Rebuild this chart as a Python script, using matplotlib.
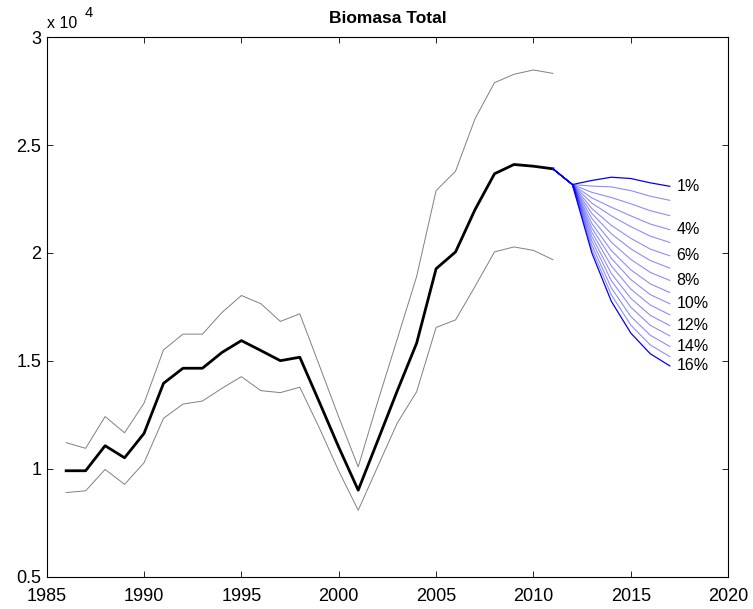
import numpy as np
import matplotlib
matplotlib.use('Agg')
import matplotlib.pyplot as plt

plt.rcParams['font.family'] = ['Liberation Sans', 'DejaVu Sans']

# historical series (units of 1e4)
years = np.arange(1986, 2012)
biomass = [0.991, 0.991, 1.107, 1.051, 1.164, 1.396, 1.466, 1.466, 1.539, 1.594,
           1.548, 1.501, 1.517, 1.31, 1.10, 0.901, 1.13, 1.36, 1.582, 1.927,
           2.005, 2.201, 2.367, 2.410, 2.402, 2.390]
upper = [1.121, 1.095, 1.242, 1.167, 1.304, 1.551, 1.624, 1.624, 1.724, 1.803,
         1.765, 1.683, 1.718, 1.48, 1.24, 1.009, 1.31, 1.60, 1.891, 2.289,
         2.379, 2.622, 2.789, 2.828, 2.848, 2.832]
lower = [0.890, 0.898, 0.997, 0.928, 1.028, 1.234, 1.300, 1.314, 1.373, 1.427,
         1.362, 1.353, 1.378, 1.19, 0.99, 0.808, 1.01, 1.211, 1.357, 1.655,
         1.690, 1.845, 2.005, 2.028, 2.012, 1.969]

# projections 2011-2017, one per harvest rate
proj_years = np.arange(2011, 2018)
rates = ['1%', '2%', '3%', '4%', '5%', '6%', '7%', '8%',
         '9%', '10%', '11%', '12%', '13%', '14%', '15%', '16%']
proj = [
    [2.390, 2.317, 2.336, 2.351, 2.345, 2.325, 2.309],
    [2.390, 2.317, 2.310, 2.306, 2.289, 2.263, 2.244],
    [2.390, 2.317, 2.281, 2.257, 2.228, 2.196, 2.173],
    [2.390, 2.317, 2.255, 2.212, 2.172, 2.134, 2.108],
    [2.390, 2.317, 2.231, 2.172, 2.122, 2.078, 2.049],
    [2.390, 2.317, 2.206, 2.128, 2.068, 2.018, 1.987],
    [2.390, 2.317, 2.183, 2.089, 2.019, 1.965, 1.930],
    [2.390, 2.317, 2.160, 2.050, 1.970, 1.910, 1.873],
    [2.390, 2.317, 2.137, 2.011, 1.922, 1.857, 1.817],
    [2.390, 2.317, 2.116, 1.975, 1.877, 1.807, 1.765],
    [2.390, 2.317, 2.096, 1.940, 1.833, 1.759, 1.714],
    [2.390, 2.317, 2.076, 1.905, 1.790, 1.711, 1.664],
    [2.390, 2.317, 2.056, 1.872, 1.749, 1.665, 1.616],
    [2.390, 2.317, 2.036, 1.838, 1.706, 1.619, 1.567],
    [2.390, 2.317, 2.017, 1.806, 1.666, 1.574, 1.520],
    [2.390, 2.317, 2.000, 1.776, 1.629, 1.533, 1.477],
]
labeled = ['1%', '4%', '6%', '8%', '10%', '12%', '14%', '16%']

scale = 1e4

fig = plt.figure(figsize=(7.53, 6.09), dpi=100)
ax = fig.add_axes([0.062, 0.053, 0.905, 0.886])

ax.plot(years, np.array(upper) * scale, color='0.5', lw=0.7)
ax.plot(years, np.array(lower) * scale, color='0.5', lw=0.7)
ax.plot(years, np.array(biomass) * scale, color='k', lw=2.0)

for i, (r, p) in enumerate(zip(rates, proj)):
    if i == 0 or i == len(rates) - 1:
        ax.plot(proj_years, np.array(p) * scale, color='#0000ff', lw=0.9)
    else:
        ax.plot(proj_years, np.array(p) * scale, color='#0000ff', lw=0.8, alpha=0.45)
    if r in labeled:
        ax.text(2017.35, p[-1] * scale, r, fontsize=11.5, va='center', ha='left')

ax.set_xlim(1985, 2020)
ax.set_ylim(0.5e4, 3e4)
ax.set_xticks(np.arange(1985, 2021, 5))
ax.set_yticks(np.arange(0.5e4, 3.01e4, 0.5e4))
ax.set_yticklabels(['0.5', '1', '1.5', '2', '2.5', '3'])
ax.tick_params(direction='in', length=4.5, width=0.6, labelsize=13,
               top=True, right=True)
ax.tick_params(axis='x', pad=8)
ax.tick_params(axis='y', pad=4)
for s in ax.spines.values():
    s.set_linewidth(0.8)

ax.set_title('Biomasa Total', fontsize=12.5, fontweight='bold', pad=10)

# exponent label, drawn like the MATLAB one
ax.annotate('x 10', xy=(0, 1), xycoords='axes fraction', xytext=(0, 9),
            textcoords='offset pixels', fontsize=11.5, ha='left', va='baseline')
ax.annotate('4', xy=(0, 1), xycoords='axes fraction', xytext=(38, 20),
            textcoords='offset pixels', fontsize=10.5, ha='left', va='baseline')

fig.savefig('out.png', dpi=100)
